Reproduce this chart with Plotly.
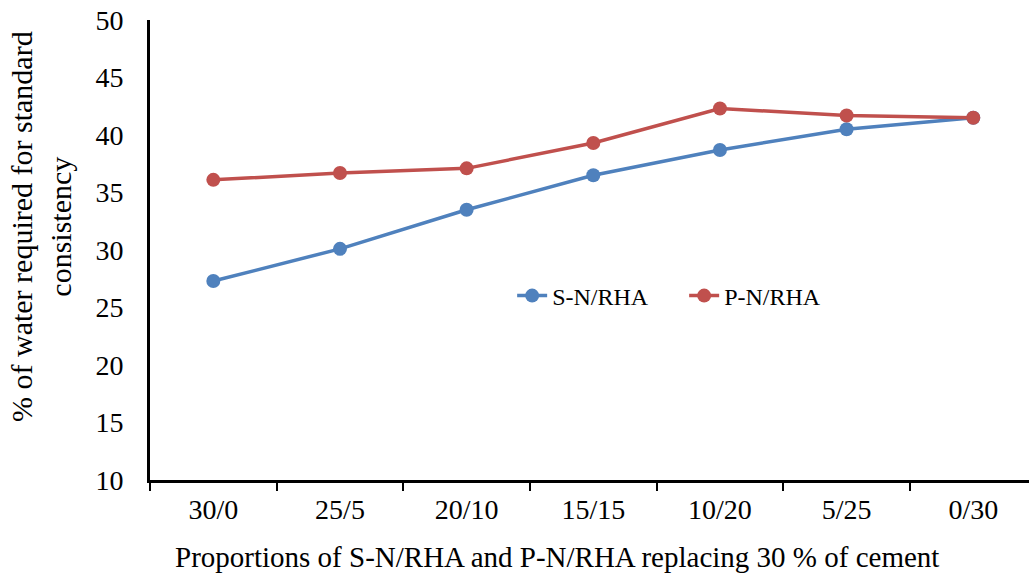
import plotly.graph_objects as go

categories = ["30/0", "25/5", "20/10", "15/15", "10/20", "5/25", "0/30"]
sn_rha = [27.3, 30.1, 33.5, 36.5, 38.7, 40.5, 41.5]
pn_rha = [36.1, 36.7, 37.1, 39.3, 42.3, 41.7, 41.5]

x_title = "Proportions of S-N/RHA and P-N/RHA replacing 30 % of cement"
y_title = "% of water required for standard<br>consistency"

FONT = "Liberation Serif"

fig = go.Figure()
fig.add_trace(go.Scatter(
    x=categories, y=sn_rha, name="S-N/RHA", mode="lines+markers",
    line=dict(color="#4F81BD", width=3.5),
    marker=dict(color="#4F81BD", size=14),
))
fig.add_trace(go.Scatter(
    x=categories, y=pn_rha, name="P-N/RHA", mode="lines+markers",
    line=dict(color="#C0504D", width=3.5),
    marker=dict(color="#C0504D", size=14),
))

fig.update_layout(
    width=1029, height=581,
    margin=dict(l=150, r=0, t=20, b=101),
    paper_bgcolor="white", plot_bgcolor="white",
    font=dict(family=FONT, size=28, color="black"),
    showlegend=True,
    legend=dict(
        orientation="h", x=0.412, y=0.4, xanchor="left", yanchor="middle",
        bgcolor="rgba(0,0,0,0)", font=dict(size=24),
        entrywidth=127, entrywidthmode="pixels",
    ),
    xaxis=dict(
        type="category", range=[-0.5, 6.44], automargin=False,
        showline=True, linecolor="black", linewidth=3,
        ticks="outside", tickson="boundaries", ticklen=8, tickwidth=2, tickcolor="black",
        showgrid=False, zeroline=False, ticklabelstandoff=2,
    ),
    yaxis=dict(
        range=[10, 50], dtick=5, automargin=False,
        showline=True, linecolor="black", linewidth=3,
        ticks="", showgrid=False, zeroline=False,
        ticklabelstandoff=18,
    ),
)

# axis titles as annotations so they sit where the original puts them
fig.add_annotation(text=x_title, xref="paper", yref="paper", x=0.463, y=-0.167,
                   xanchor="center", yanchor="middle", showarrow=False,
                   font=dict(size=29))
fig.add_annotation(text=y_title, xref="paper", yref="paper", x=-0.124, y=0.55,
                   xanchor="center", yanchor="middle", showarrow=False,
                   textangle=-90, font=dict(size=30))

fig.write_html("out.html", config={"displayModeBar": False},
               post_script="document.body.style.margin='0px';")
